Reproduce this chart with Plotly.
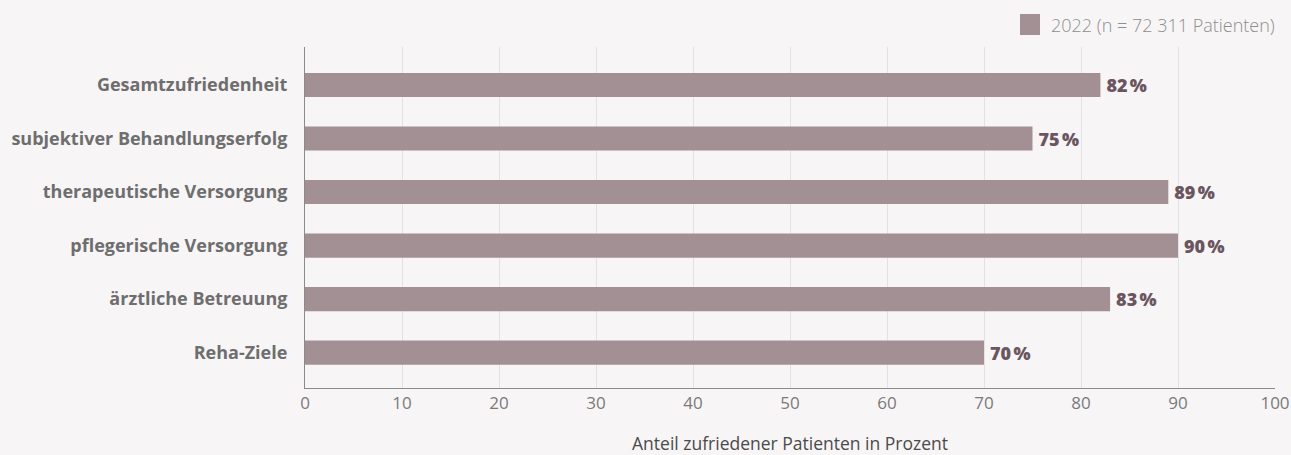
import plotly.graph_objects as go

categories = [
    "Gesamtzufriedenheit",
    "subjektiver Behandlungserfolg",
    "therapeutische Versorgung",
    "pflegerische Versorgung",
    "ärztliche Betreuung",
    "Reha-Ziele",
]
values_2022 = [82, 75, 89, 90, 83, 70]
series_name = "2022 (n = 72 311 Patienten)"
x_ticks = [0, 10, 20, 30, 40, 50, 60, 70, 80, 90, 100]

BG = "#f7f5f6"
BAR = "#a39095"
LABEL = "#6b5560"

fig = go.Figure(
    go.Bar(
        x=values_2022,
        y=categories,
        orientation="h",
        name=series_name,
        marker=dict(color=BAR, line=dict(width=0)),
        width=0.45,
        text=[f"\u2009{v}\u202f%" for v in values_2022],
        textposition="outside",
        cliponaxis=False,
        textfont=dict(family="Open Sans", size=18, color=LABEL, weight=800),
        showlegend=False,
    )
)

# legend swatch + label drawn above the top-right corner of the plot
fig.add_shape(
    type="rect",
    xref="paper", yref="paper",
    xsizemode="pixel", ysizemode="pixel",
    xanchor=1, yanchor=1,
    x0=-255, x1=-235, y0=12, y1=33,
    fillcolor=BAR, line=dict(width=0),
)
fig.add_annotation(
    xref="paper", yref="paper",
    x=1, y=1, xanchor="right", yanchor="middle",
    xshift=2, yshift=22,
    text=series_name, showarrow=False,
    font=dict(family="Open Sans", size=18, color="#8f8f8f", weight=300),
)

fig.update_layout(
    width=1291,
    height=455,
    paper_bgcolor=BG,
    plot_bgcolor=BG,
    margin=dict(l=305, r=16, t=47, b=67),
    font=dict(family="Open Sans", color="#777777"),
    showlegend=False,
    xaxis=dict(
        range=[0, 100],
        tickvals=x_ticks,
        automargin=False,
        showgrid=True,
        gridcolor="#e4e1e2",
        gridwidth=1,
        showline=True,
        linecolor="#8a8a8a",
        linewidth=1,
        zeroline=False,
        ticks="",
        tickfont=dict(size=17, color="#7a7a7a", weight=400),
        title=dict(
            text="Anteil zufriedener Patienten in Prozent",
            font=dict(size=17.5, color="#4a4a4a", weight=400),
            standoff=25,
        ),
    ),
    yaxis=dict(
        categoryorder="array",
        categoryarray=categories,
        autorange=False,
        range=[5.66, -0.71],
        automargin=False,
        showgrid=False,
        showline=True,
        linecolor="#8a8a8a",
        linewidth=1,
        zeroline=False,
        ticks="outside",
        ticklen=13,
        tickcolor="rgba(0,0,0,0)",
        tickfont=dict(size=18, color="#6e6e6e", weight="bold"),
    ),
)

fig.write_html("out.html")
